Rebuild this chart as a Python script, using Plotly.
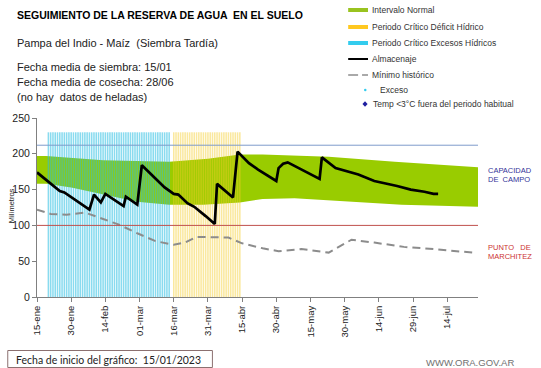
import pandas as pd
import plotly.graph_objects as go

# ---------------- data ----------------
START = "2023-01-15"
X_END = "2023-07-27 12:00"

ALM_DATES = ["2023-01-15", "2023-01-25", "2023-01-27", "2023-02-07", "2023-02-09", "2023-02-12",
             "2023-02-14", "2023-02-22", "2023-02-23", "2023-02-28", "2023-03-02", "2023-03-07",
             "2023-03-12", "2023-03-16", "2023-03-18", "2023-03-22", "2023-03-25", "2023-03-30",
             "2023-04-03", "2023-04-04", "2023-04-11", "2023-04-13", "2023-04-18", "2023-04-22",
             "2023-04-30", "2023-05-01", "2023-05-03", "2023-05-05", "2023-05-19", "2023-05-20",
             "2023-05-26", "2023-06-05", "2023-06-12", "2023-06-22", "2023-06-28", "2023-07-04",
             "2023-07-08", "2023-07-10"]
ALM_VALUES = [174, 148, 146, 122, 143, 132,
              144, 127, 140, 129, 184, 168,
              153, 144, 143, 131, 126, 113,
              102, 158, 139, 203, 187, 178,
              162, 180, 186, 188, 165, 195,
              180, 171, 162, 155, 150, 147,
              144, 144]

MIN_DATES = ["2023-01-15", "2023-01-21", "2023-01-28", "2023-02-05", "2023-02-13", "2023-02-20",
             "2023-02-28", "2023-03-08", "2023-03-16", "2023-03-21", "2023-03-26", "2023-04-09",
             "2023-04-15", "2023-04-24", "2023-05-01", "2023-05-11", "2023-05-23", "2023-06-02",
             "2023-06-12", "2023-06-25", "2023-07-08", "2023-07-25"]
MIN_VALUES = [122, 116, 115, 118, 109, 101,
              89, 78, 73, 76, 84, 83,
              75, 68, 64, 67, 62, 80,
              76, 70, 67, 62]

UP_DATES = ["2023-01-15", "2023-01-19", "2023-02-13", "2023-03-14", "2023-03-31", "2023-04-14",
            "2023-04-24", "2023-05-23", "2023-06-21", "2023-07-28"]
UP_VALUES = [197, 197, 191, 189, 193, 199, 199, 196, 189, 181]

LOW_DATES = ["2023-01-15", "2023-01-19", "2023-01-30", "2023-02-13", "2023-02-28", "2023-03-14",
             "2023-03-29", "2023-04-14", "2023-04-24", "2023-05-08", "2023-06-06", "2023-06-24",
             "2023-07-28"]
LOW_VALUES = [158, 158, 153, 143, 133, 129, 129, 132, 137, 138, 133, 129, 126]

EXCESOS_PERIOD = ("2023-01-20", "2023-03-14")
DEFICIT_PERIOD = ("2023-03-16", "2023-04-14")
PERIOD_BAR_TOP = 230

CAPACIDAD_CAMPO = 212
PUNTO_MARCHITEZ = 100

TICK_DATES = ["2023-01-15", "2023-01-30", "2023-02-14", "2023-03-01", "2023-03-16", "2023-03-31",
              "2023-04-15", "2023-04-30", "2023-05-15", "2023-05-30", "2023-06-14", "2023-06-29",
              "2023-07-14"]
TICK_TEXT = ["15-ene", "30-ene", "14-feb", "01-mar", "16-mar", "31-mar", "15-abr", "30-abr",
             "15-may", "30-may", "14-jun", "29-jun", "14-jul"]

# ---------------- layout helpers ----------------
W, H = 541, 368
L, R, T, B = 33, 478, 118, 297


def px(x):
    return (x - L) / (R - L)


def py(y):
    return (B - y) / (B - T)


FONT = "Liberation Sans, Arial, sans-serif"
GREEN = "#99CC00"

exc_days = pd.date_range(*EXCESOS_PERIOD, freq="D")
def_days = pd.date_range(*DEFICIT_PERIOD, freq="D")
DAY_MS = 86400000

fig = go.Figure()

# green band (main subplot)
fig.add_trace(go.Scatter(x=LOW_DATES, y=LOW_VALUES, mode="lines", line=dict(width=0),
                         hoverinfo="skip", showlegend=False))
fig.add_trace(go.Scatter(x=UP_DATES, y=UP_VALUES, mode="lines", line=dict(width=0),
                         fill="tonexty", fillcolor=GREEN, showlegend=False, name="Intervalo Normal"))

# period bars (overlay 2, semi-transparent)
fig.add_trace(go.Bar(x=exc_days, y=[PERIOD_BAR_TOP] * len(exc_days), width=DAY_MS * 0.68,
                     marker=dict(color="rgba(40,190,225,0.55)", line=dict(width=0)),
                     xaxis="x2", yaxis="y2", showlegend=False,
                     name="Periodo Crítico Excesos Hídricos"))
fig.add_trace(go.Bar(x=def_days, y=[PERIOD_BAR_TOP] * len(def_days), width=DAY_MS * 0.68,
                     marker=dict(color="rgba(245,205,40,0.45)", line=dict(width=0)),
                     xaxis="x2", yaxis="y2", showlegend=False,
                     name="Periodo Crítico Déficit Hídrico"))

# lines (overlay 3)
fig.add_trace(go.Scatter(x=MIN_DATES, y=MIN_VALUES, mode="lines",
                         line=dict(color="#8C8C8C", width=2, dash="8px,5px"),
                         xaxis="x3", yaxis="y3", showlegend=False, name="Mínimo histórico"))
fig.add_trace(go.Scatter(x=ALM_DATES, y=ALM_VALUES, mode="lines",
                         line=dict(color="black", width=2.7),
                         xaxis="x3", yaxis="y3", showlegend=False, name="Almacenaje"))

shapes = [
    dict(type="line", xref="paper", yref="y", x0=0, x1=1, y0=CAPACIDAD_CAMPO, y1=CAPACIDAD_CAMPO,
         line=dict(color="#7F9BCB", width=1), layer="above"),
    dict(type="line", xref="paper", yref="y", x0=0, x1=1, y0=PUNTO_MARCHITEZ, y1=PUNTO_MARCHITEZ,
         line=dict(color="#C0504D", width=1), layer="above"),
]

annotations = []


def txt(text, x, y, size, color="#222222", anchor="left", bold=False, family=FONT, angle=0):
    annotations.append(dict(text=f"<b>{text}</b>" if bold else text, xref="paper", yref="paper",
                            x=px(x), y=py(y), xanchor=anchor, yanchor="middle", showarrow=False,
                            font=dict(size=size, color=color, family=family), textangle=angle))


# header
txt("SEGUIMIENTO DE LA RESERVA DE AGUA  EN EL SUELO", 11, 15, 10.5, color="black", bold=True)
txt("Pampa del Indio - Maíz  (Siembra Tardía)", 11, 43, 11)
txt("Fecha media de siembra: 15/01", 11, 67, 11)
txt("Fecha media de cosecha: 28/06", 11, 82, 11)
txt("(no hay  datos de heladas)", 11, 97, 11)

# legend
leg_rows = [10, 27, 43, 59, 75, 90, 104]
sx0, sx1 = 347, 367
shapes.append(dict(type="rect", xref="paper", yref="paper", x0=px(sx0), x1=px(sx1),
                   y0=py(leg_rows[0] + 2), y1=py(leg_rows[0] - 2), fillcolor="#99C31F", line=dict(width=0)))
shapes.append(dict(type="rect", xref="paper", yref="paper", x0=px(sx0), x1=px(sx1),
                   y0=py(leg_rows[1] + 2), y1=py(leg_rows[1] - 2), fillcolor="#FFC820", line=dict(width=0)))
shapes.append(dict(type="rect", xref="paper", yref="paper", x0=px(sx0), x1=px(sx1),
                   y0=py(leg_rows[2] + 2), y1=py(leg_rows[2] - 2), fillcolor="#33CCEE", line=dict(width=0)))
shapes.append(dict(type="line", xref="paper", yref="paper", x0=px(sx0), x1=px(sx1),
                   y0=py(leg_rows[3]), y1=py(leg_rows[3]), line=dict(color="black", width=2)))
shapes.append(dict(type="line", xref="paper", yref="paper", x0=px(sx0), x1=px(357),
                   y0=py(leg_rows[4]), y1=py(leg_rows[4]), line=dict(color="#8C8C8C", width=1.5)))
shapes.append(dict(type="line", xref="paper", yref="paper", x0=px(361), x1=px(367),
                   y0=py(leg_rows[4]), y1=py(leg_rows[4]), line=dict(color="#8C8C8C", width=1.5)))
shapes.append(dict(type="circle", xref="paper", yref="paper", x0=px(363), x1=px(365.5),
                   y0=py(leg_rows[5] + 1.2), y1=py(leg_rows[5] - 1.2), fillcolor="#33CCEE",
                   line=dict(width=0)))
shapes.append(dict(type="path", xref="paper", yref="paper",
                   path=(f"M {px(364)} {py(leg_rows[6] - 2.8)} L {px(366.6)} {py(leg_rows[6])} "
                         f"L {px(364)} {py(leg_rows[6] + 2.8)} L {px(361.4)} {py(leg_rows[6])} Z"),
                   fillcolor="#1F1FA0", line=dict(width=0)))

leg_text = ["Intervalo Normal", "Periodo Crítico Déficit Hídrico", "Periodo Crítico Excesos Hídricos",
            "Almacenaje", "Mínimo histórico", "Exceso", "Temp <3°C fuera del periodo habitual"]
leg_x = [369, 369, 369, 369, 369, 377, 370]
for t, yy, xx in zip(leg_text, leg_rows, leg_x):
    txt(t, xx, yy, 8.5, color="#333333")

# right side labels
txt("CAPACIDAD", 486, 170, 7.5, color="#333399")
txt("DE  CAMPO", 486, 179, 7.5, color="#333399")
txt("PUNTO   DE", 486, 247, 7.5, color="#CC3333")
txt("MARCHITEZ", 486, 256, 7.5, color="#CC3333")

# y axis title
txt("Milímetros", 7, 206, 7.5, color="#222222", anchor="center", angle=-90)

# footer
shapes.append(dict(type="rect", xref="paper", yref="paper", x0=px(3.5), x1=px(210),
                   y0=py(367.5), y1=py(350.5), line=dict(color="#8B7070", width=1),
                   fillcolor="white"))
txt("Fecha de inicio del gráfico:  15/01/2023", 9.5, 359.5, 10.5, color="#222222",
    family="Lato, Carlito, sans-serif")
txt("WWW.ORA.GOV.AR", 516, 362, 9.5, color="#707070", anchor="right")

axis_common = dict(showgrid=False, zeroline=False, showline=True, linecolor="#808080", linewidth=1,
                   ticks="outside", ticklen=4, tickcolor="#808080",
                   tickfont=dict(family=FONT, size=10.5, color="#222222"))

fig.update_layout(
    width=W, height=H, autosize=False,
    margin=dict(l=L, r=W - R, t=T, b=H - B, pad=0),
    paper_bgcolor="white", plot_bgcolor="white",
    showlegend=False, barmode="overlay",
    xaxis=dict(type="date", range=[START, X_END], tickvals=TICK_DATES, ticktext=TICK_TEXT,
               tickangle=-90, **{**axis_common, "tickfont": dict(family=FONT, size=9.5, color="#222222")}),
    yaxis=dict(range=[0, 250], dtick=50, **axis_common),
    xaxis2=dict(type="date", range=[START, X_END], overlaying="x", visible=False),
    yaxis2=dict(range=[0, 250], overlaying="y", visible=False),
    xaxis3=dict(type="date", range=[START, X_END], overlaying="x", visible=False),
    yaxis3=dict(range=[0, 250], overlaying="y", visible=False),
    shapes=shapes, annotations=annotations,
)

fig.write_html("out.html", config={"displayModeBar": False, "staticPlot": True},
               post_script="document.body.style.margin='0';document.body.style.padding='0';")
